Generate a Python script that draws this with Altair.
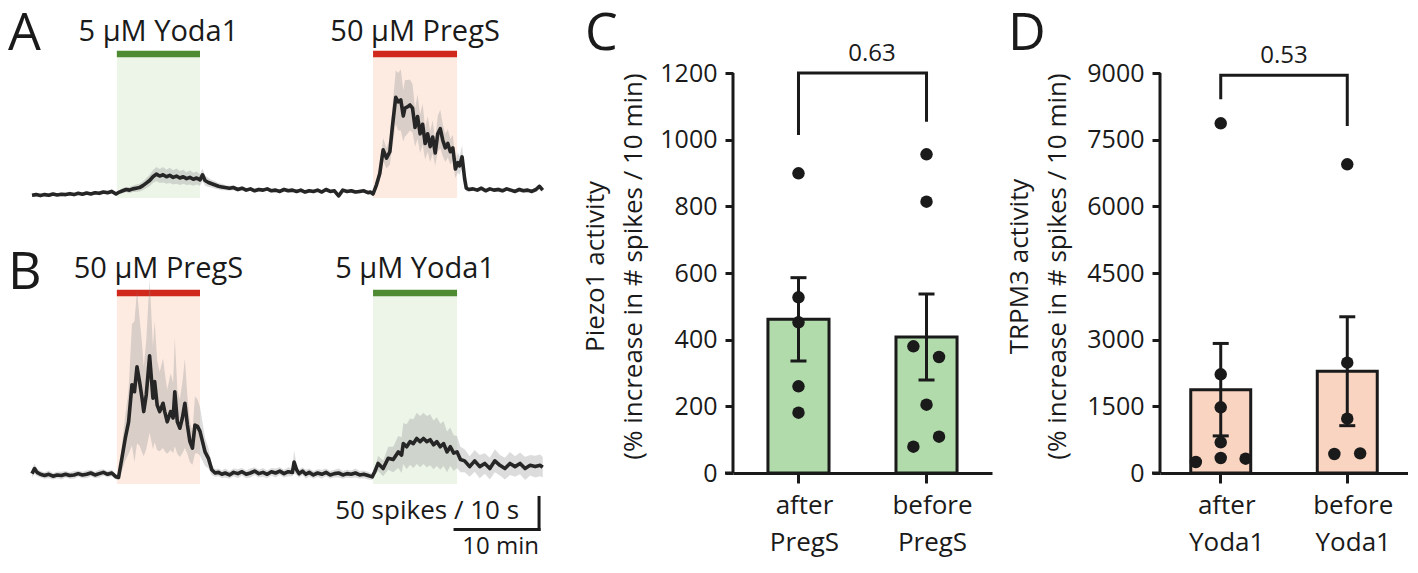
import altair as alt
import pandas as pd

FONT = "Open Sans"
INK = "#1a1a1a"

# ---------------- Panel A trace (time in min, rate in spikes / 10 s) ----------------
tA = [0, 0.5, 1, 1.5, 2, 2.5, 3, 3.5, 4, 4.5, 5, 5.5, 6, 6.5, 7, 7.5, 8, 8.5, 9, 9.5, 10,
      10.4, 10.8, 11.2, 11.6, 12, 12.4, 12.8, 13.2, 13.6, 14, 14.4, 14.8, 15.2, 15.6, 16, 16.4, 16.8,
      17.2, 17.6, 18, 18.4, 18.8, 19.2, 19.6, 20, 20.3, 20.6, 21, 21.4, 21.8, 22.2, 22.6, 23, 23.5, 24,
      24.5, 25, 25.5, 26, 26.5, 27, 27.5, 28, 28.5, 29, 29.5, 30, 30.5, 31, 31.5, 32, 32.5, 33, 33.5,
      34, 34.5, 35, 35.5, 36, 36.5, 37, 37.5, 38, 38.5, 39, 39.5, 40, 40.3, 40.6,
      41.0, 41.4, 41.8, 42.2, 42.6, 42.9, 43.3, 43.6, 43.9, 44.2, 44.4, 44.7, 45.0, 45.3, 45.6, 45.9,
      46.2, 46.5, 46.8, 47.1, 47.4, 47.7, 48.0, 48.3, 48.6, 48.9, 49.2, 49.5, 49.8, 50.1, 50.4, 50.7,
      50.9, 51.2, 51.5, 51.7,
      52.0, 52.5, 53, 53.5, 54, 54.5, 55, 55.5, 56, 56.5, 57, 57.5, 58, 58.5, 59, 59.5, 60, 60.4, 60.8]
vA = [4, 5, 3.5, 5, 4, 6, 4.5, 5.5, 5, 6.5, 5, 7, 5.5, 7.5, 6, 8, 7, 9, 8, 10, 6,
      9, 11, 13, 12, 14, 15, 16, 19, 23, 27, 33, 37, 34, 36, 33, 35, 32, 34, 31, 33, 30, 32, 29, 31, 28,
      36, 27, 24, 22, 20, 18, 17, 16, 15, 16,
      13, 15, 12, 14, 11, 13, 12, 14, 11, 12, 10, 13, 11, 12, 10, 12, 9, 11, 10, 12, 9, 13, 10, 11, 3,
      12, 10, 11, 9, 10, 11, 8, 9, 6,
      20, 38, 75, 62, 72, 111, 157, 150, 153, 128, 140, 142, 145, 140, 110, 127, 100, 115, 85, 100, 80,
      95, 70, 100, 108, 90, 78, 85, 72, 78, 45, 55, 50, 64, 30, 15,
      13, 14, 12, 15, 11, 14, 12, 13, 11, 14, 12, 10, 13, 11, 12, 10, 13, 18, 12]
sA = [2, 3, 2, 2, 3, 2, 2, 3, 2, 2, 3, 2, 2, 3, 2, 2, 3, 3, 3, 3, 3,
      3, 4, 4, 5, 5, 6, 6, 7, 8, 9, 10, 11, 11, 12, 11, 12, 11, 12, 11, 11, 10, 11, 10, 10, 9,
      10, 8, 7, 6, 6, 5, 5, 4, 4, 4,
      3, 3, 3, 3, 3, 3, 3, 3, 3, 3, 3, 3, 3, 3, 3, 3, 3, 3, 3, 3, 3, 3, 3, 3, 4,
      3, 3, 3, 3, 3, 3, 3, 3, 3,
      6, 10, 18, 16, 20, 30, 42, 45, 48, 40, 44, 42, 40, 38, 30, 35, 30, 32, 25, 28, 24,
      26, 20, 28, 30, 25, 22, 22, 20, 20, 14, 16, 14, 18, 8, 5,
      3, 3, 3, 4, 3, 3, 3, 4, 3, 3, 3, 3, 4, 3, 3, 3, 3, 4, 3]

# ---------------- Panel B trace ----------------
tB = [0, 0.3, 0.6, 1, 1.5, 2, 2.5, 3, 3.5, 4, 4.5, 5, 5.5, 6, 6.5, 7, 7.5, 8, 8.5, 9, 9.5, 10,
      10.3, 10.7, 11.1, 11.5, 11.9, 12.2, 12.5, 12.8, 13.1, 13.3, 13.6, 14.0, 14.4, 14.6, 14.9, 15.2,
      15.6, 15.8, 16.1, 16.5, 16.8, 17.0, 17.3, 17.6, 17.9, 18.2, 18.5, 18.8, 19.1, 19.4, 19.7, 20.0,
      20.3, 20.6, 21.0, 21.4, 21.8,
      22.2, 22.6, 23, 23.5, 24, 24.5, 25, 25.5, 26, 26.5, 27, 27.5, 28, 28.5, 29, 29.5, 30, 30.5, 31,
      31.2, 31.5, 31.8, 32.2, 32.6, 33, 33.5, 34, 34.5, 35, 35.5, 36, 36.5, 37, 37.5, 38, 38.5, 39,
      39.5, 40, 40.5,
      40.8, 41.2, 41.8, 42.4, 43.0, 43.6, 44.0, 44.2, 44.6, 45.0, 45.4, 45.8, 46.2, 46.6, 47.0, 47.4,
      47.8, 48.2, 48.6, 49.0, 49.4, 49.8, 50.2, 50.6, 51.0, 51.5,
      52.1, 52.7, 53.3, 53.9, 54.5, 55.1, 55.7, 56.3, 56.9, 57.5, 58.1, 58.7, 59.3, 59.9, 60.5, 60.8]
vB = [8, 16, 10, 7, 5, 7, 4, 6, 5, 7, 5, 6, 8, 6, 7, 9, 6, 8, 10, 7, 9, 3,
      2, 32, 63, 89, 147, 136, 175, 152, 126, 105, 131, 192, 126, 152, 115, 105, 118, 105, 89, 105,
      95, 136, 89, 79, 95, 118, 84, 58, 48, 84, 82, 74, 58, 42, 32, 14, 9,
      10, 7, 9, 6, 10, 8, 11, 7, 9, 12, 8, 10, 7, 11, 9, 12, 8, 11, 10, 26, 14, 8, 12, 7, 10, 6, 9,
      7, 10, 6, 8, 9, 6, 8, 7, 9, 6, 7, 5, 3,
      11, 24, 16, 32, 30, 42, 37, 55, 50, 58, 55, 63, 58, 63, 58, 61, 53, 58, 50, 55, 42, 50, 40, 42,
      30, 28,
      19, 28, 19, 24, 16, 28, 21, 16, 24, 19, 24, 16, 21, 19, 21, 18]
sB = [6, 8, 6, 5, 5, 6, 5, 5, 6, 5, 5, 6, 5, 5, 6, 5, 5, 6, 5, 5, 5, 4,
      4, 20, 35, 50, 95, 110, 120, 100, 85, 70, 85, 120, 80, 95, 70, 62, 70, 62, 50, 60,
      55, 85, 50, 45, 55, 70, 45, 32, 26, 45, 42, 38, 30, 22, 16, 8, 6,
      6, 6, 7, 6, 6, 7, 6, 6, 7, 6, 6, 7, 6, 6, 7, 6, 6, 7, 6, 18, 8, 6, 6, 7, 6, 6, 6,
      7, 6, 6, 6, 7, 6, 6, 6, 7, 6, 6, 6, 5,
      5, 12, 12, 18, 20, 25, 28, 32, 35, 36, 38, 40, 40, 40, 40, 40, 38, 38, 36, 35, 32, 30, 28, 25,
      20, 18,
      16, 17, 18, 16, 17, 18, 16, 17, 18, 16, 17, 18, 16, 17, 17, 16]

# treatment windows (min)
win_start = [10.1, 40.6]
win_end = [20.0, 50.6]
drugsA = ["5 µM Yoda1", "50 µM PregS"]
kindsA = ["yoda", "pregs"]
drugsB = ["50 µM PregS", "5 µM Yoda1"]
kindsB = ["pregs", "yoda"]

# scale bar: 10 min x 50 spikes / 10 s
SB_T = [50.36, 60.36]
SB_V = [-79.2, -29.2]

# ---------------- Panel C / D summary data ----------------
catsC = ["after PregS", "before PregS"]
meanC = [461, 408]
semC = [125, 129]
ptsC_idx = [0, 0, 0, 0, 0, 1, 1, 1, 1, 1, 1, 1]
ptsC_val = [899, 527, 452, 260, 181, 956, 814, 380, 348, 205, 109, 79]
ptsC_jit = [0, 0, 0, 0, 0, 0, 0, -0.43, 0.41, 0, 0.41, -0.43]
brC_cat = ["after PregS", "after PregS", "before PregS", "before PregS"]
brC_val = [1014, 1200, 1200, 1054]

catsD = ["after Yoda1", "before Yoda1"]
meanD = [1875, 2290]
semD = [1040, 1225]
ptsD_idx = [0, 0, 0, 0, 0, 0, 0, 1, 1, 1, 1, 1]
ptsD_val = [7868, 2220, 1478, 690, 337, 247, 322, 6945, 2483, 1223, 427, 442]
ptsD_jit = [0, 0, 0, 0, 0, -0.83, 0.83, 0, 0, 0, -0.43, 0.43]
brD_cat = ["after Yoda1", "after Yoda1", "before Yoda1", "before Yoda1"]
brD_val = [8410, 8950, 8950, 7808]

# ======================= traces A + B (one plot area) =======================
W_AB, H_AB = 557, 550
XDOM = [-2.857, 63.45]
xs = alt.Scale(domain=XDOM)
yA = alt.Scale(domain=[-562.8, 296.6])
yB = alt.Scale(domain=[-123.8, 735.6])
fill_sc = alt.Scale(domain=["yoda", "pregs"], range=["#edf5e9", "#fdebe2"])
stroke_sc = alt.Scale(domain=["yoda", "pregs"], range=["#4e8a32", "#d0281c"])
one = pd.DataFrame({"k": [0]})


def trace_layer(t, v, s, drugs, kinds, ysc, band_top, band_bot, bar_lvl, lab_lvl, letter, letter_y):
    dft = pd.DataFrame({"t": t, "v": v, "s": s})
    dfw = pd.DataFrame({"start": win_start, "end": win_end, "drug": drugs, "kind": kinds})
    bands = alt.Chart(dfw).mark_rect().encode(
        x=alt.X("start:Q", scale=xs, axis=None), x2="end:Q",
        y=alt.YDatum(band_top, scale=ysc, axis=None), y2=alt.Y2Datum(band_bot),
        fill=alt.Fill("kind:N", scale=fill_sc, legend=None))
    bars = alt.Chart(dfw).mark_rule(strokeWidth=6.5).encode(
        x=alt.X("start:Q", scale=xs, axis=None), x2="end:Q",
        y=alt.YDatum(bar_lvl, scale=ysc, axis=None),
        stroke=alt.Stroke("kind:N", scale=stroke_sc, legend=None))
    labels = alt.Chart(dfw).transform_calculate(mid="(datum.start + datum.end) / 2").mark_text(
        font=FONT, fontSize=29, align="center", baseline="alphabetic", color=INK).encode(
        x=alt.X("mid:Q", scale=xs, axis=None),
        y=alt.YDatum(lab_lvl, scale=ysc, axis=None), text="drug:N")
    base = alt.Chart(dft).transform_calculate(lo="datum.v - datum.s", hi="datum.v + datum.s")
    sem = base.mark_area(color="#8a8a8a", opacity=0.3).encode(
        x=alt.X("t:Q", scale=xs, axis=None), y=alt.Y("lo:Q", scale=ysc, axis=None), y2="hi:Q")
    line = base.mark_line(color="#262626", strokeWidth=3.6, strokeJoin="round").encode(
        x=alt.X("t:Q", scale=xs, axis=None), y=alt.Y("v:Q", scale=ysc, axis=None))
    let = alt.Chart(one).mark_text(text=letter, font=FONT, fontSize=52, align="left",
                                   baseline="top", color=INK).encode(
        x=alt.value(0), y=alt.value(letter_y))
    return [bands, bars, labels, sem, line, let]


layA = alt.layer(*trace_layer(tA, vA, sA, drugsA, kindsA, yA, 220, -0.3, 224.7, 245, "A", 1))
layB_parts = trace_layer(tB, vB, sB, drugsB, kindsB, yB, 285.6, -8.1, 290.3, 313.7, "B", 240)

sb_h = alt.Chart(one).mark_rule(strokeWidth=3, color=INK, strokeCap="square").encode(
    x=alt.XDatum(SB_T[0], scale=xs, axis=None), x2=alt.X2Datum(SB_T[1]),
    y=alt.YDatum(SB_V[0], scale=yB, axis=None))
sb_v = alt.Chart(one).mark_rule(strokeWidth=3, color=INK, strokeCap="square").encode(
    x=alt.XDatum(SB_T[1], scale=xs, axis=None),
    y=alt.YDatum(SB_V[0], scale=yB, axis=None), y2=alt.Y2Datum(SB_V[1]))
sb_t1 = alt.Chart(one).mark_text(text="50 spikes / 10 s", font=FONT, fontSize=26, align="right",
                                 baseline="alphabetic", color=INK).encode(
    x=alt.XDatum(57.98, scale=xs, axis=None), y=alt.YDatum(-62.1, scale=yB, axis=None))
sb_t2 = alt.Chart(one).mark_text(text="10 min", font=FONT, fontSize=24, align="right",
                                 baseline="alphabetic", color=INK).encode(
    x=alt.XDatum(60.36, scale=xs, axis=None), y=alt.YDatum(-117.5, scale=yB, axis=None))

layB = alt.layer(*layB_parts, sb_h, sb_v, sb_t1, sb_t2)
AB = alt.layer(layA, layB).resolve_scale(y="independent").properties(width=W_AB, height=H_AB)

# ======================= bar panels C and D =======================
H_BAR = 465


def bar_panel(cats, means, sems, pidx, pval, pjit, bcat, bval, ymax, step, ydom, fillc,
              title, letter, W, pin, pout, pv_text, pv_x, pv_lvl, letter_x, title_x):
    xsc = alt.Scale(domain=cats, paddingInner=pin, paddingOuter=pout)
    xax = alt.Axis(title=None, domainWidth=3, domainColor=INK, tickWidth=3, tickSize=10,
                   tickColor=INK, labelFont=FONT, labelFontSize=26, labelColor=INK, labelAngle=0,
                   labelPadding=9, labelLineHeight=37, labelOffset=6,
                   labelExpr="split(datum.label, ' ')")
    ysc = alt.Scale(domain=[0, ydom], nice=False, zero=True)
    yax = alt.Axis(values=list(range(0, ymax + 1, step)), format="d", domain=False, grid=False,
                   tickWidth=3, tickSize=8, tickColor=INK, labelFont=FONT, labelFontSize=25,
                   labelColor=INK, labelPadding=8, title=title, titleFont=FONT, titleFontSize=26,
                   titleFontWeight="normal", titleColor=INK, titleLineHeight=38,
                   titleX=title_x, titleY=258)
    X = alt.X("cat:N", scale=xsc, axis=xax)
    dfm = pd.DataFrame({"cat": cats, "mean": means, "sem": sems})
    dfb = pd.DataFrame({"cat": bcat, "val": bval, "o": list(range(len(bcat)))})

    # geometry of the band scale, to place jittered dots on a matching linear scale
    stp = W / (len(cats) - pin + 2 * pout)
    c0 = pout * stp + stp * (1 - pin) / 2
    half_bw_steps = (1 - pin) / 2
    dfp = pd.DataFrame({"idx": pidx, "val": pval, "jit": pjit})

    bars = alt.Chart(dfm).mark_bar(fill=fillc, stroke=INK, strokeWidth=3).encode(
        x=X, y=alt.Y("mean:Q", scale=ysc, axis=yax))
    eb = alt.Chart(dfm).transform_calculate(lo="datum.mean - datum.sem",
                                            hi="datum.mean + datum.sem")
    err = eb.mark_rule(color=INK, strokeWidth=3).encode(
        x=X, y=alt.Y("lo:Q", scale=ysc, axis=yax), y2="hi:Q")
    cap_lo = eb.mark_tick(color=INK, size=16, thickness=3, opacity=1).encode(
        x=X, y=alt.Y("lo:Q", scale=ysc, axis=yax))
    cap_hi = eb.mark_tick(color=INK, size=16, thickness=3, opacity=1).encode(
        x=X, y=alt.Y("hi:Q", scale=ysc, axis=yax))
    bracket = alt.Chart(dfb).mark_line(color=INK, strokeWidth=3, strokeJoin="miter").encode(
        x=X, y=alt.Y("val:Q", scale=ysc, axis=yax), order="o:Q")
    yline = alt.Chart(one).mark_rule(color=INK, strokeWidth=3).encode(
        x=alt.value(0), y=alt.YDatum(0, scale=ysc, axis=yax), y2=alt.Y2Datum(ymax))
    corner = alt.Chart(one).mark_rule(color=INK, strokeWidth=3).encode(
        x=alt.value(-8), x2=alt.value(0), y=alt.YDatum(0, scale=ysc, axis=yax))
    pv = alt.Chart(one).mark_text(text=pv_text, font=FONT, fontSize=24, align="center",
                                  baseline="alphabetic", color=INK).encode(
        x=alt.value(pv_x), y=alt.YDatum(pv_lvl, scale=ysc, axis=yax))
    let = alt.Chart(one).mark_text(text=letter, font=FONT, fontSize=52, align="left",
                                   baseline="top", color=INK).encode(
        x=alt.value(letter_x), y=alt.value(1))
    main = alt.layer(bars, err, cap_lo, cap_hi, bracket, yline, corner, pv, let)

    pts = alt.Chart(dfp).transform_calculate(
        px="datum.idx + datum.jit * %f" % half_bw_steps).mark_circle(
        size=155, color=INK, opacity=1).encode(
        x=alt.X("px:Q", scale=alt.Scale(domain=[-c0 / stp, (W - c0) / stp], nice=False, zero=False),
                axis=None),
        y=alt.Y("val:Q", scale=ysc, axis=yax))
    return alt.layer(main, pts).resolve_scale(x="independent").properties(width=W, height=H_BAR)


C = bar_panel(catsC, meanC, semC, ptsC_idx, ptsC_val, ptsC_jit, brC_cat, brC_val,
              1200, 200, 1395, "#b1dbab", ["Piezo1 activity", "(% increase in # spikes / 10 min)"],
              "C", 259, 0.523, 0.273, "0.63", 139, 1236, -148, -125)
D = bar_panel(catsD, meanD, semD, ptsD_idx, ptsD_val, ptsD_jit, brD_cat, brD_val,
              9000, 1500, 10462.5, "#f9d4c0", ["TRPM3 activity", "(% increase in # spikes / 10 min)"],
              "D", 248, 0.526, 0.243, "0.53", 124, 9218, -152, -128)

chart = alt.hconcat(AB, C, D, spacing=168, bounds="flush").properties(padding=0).configure_view(
    stroke=None)

chart.save("out.html", embed_options={"renderer": "svg", "actions": False})
